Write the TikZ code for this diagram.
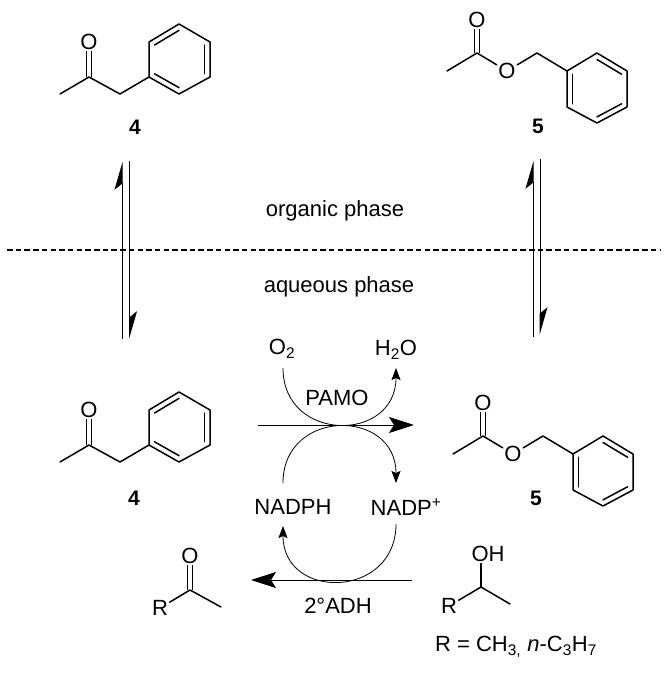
\documentclass[tikz,border=0pt]{standalone}
\usepackage{fontspec}
\setmainfont{Liberation Sans}
\usetikzlibrary{arrows.meta,calc}

\tikzset{
  txt/.style={font=\fontsize{22}{26}\selectfont,inner sep=1pt},
  atom/.style={font=\fontsize{22}{26}\selectfont,inner sep=1.5pt},
  cmpd/.style={font=\fontsize{21}{25}\selectfont\bfseries,inner sep=1pt},
  bond/.style={line width=1.5pt,line join=round,line cap=round},
  dbond/.style={line width=1.2pt,double,double distance=3.6pt},
  reaction/.style={line width=1pt,-{Stealth[length=25pt,width=16pt,inset=5pt]}},
  cofactor/.style={line width=.8pt,-{Stealth[length=12pt,width=9pt,inset=2pt]}},
  equp/.style={line width=1pt,-{Stealth[harpoon,length=26pt,width=15pt,inset=6pt]}},
  eqdown/.style={line width=1pt,-{Stealth[harpoon,length=26pt,width=15pt,inset=6pt]}},
  phenylketone/.pic={
    \coordinate (-c) at (0,0);
    \coordinate (-me) at (-29,17);
    \coordinate (-ch) at (31,17);
    \coordinate (-a) at (60,0);
    \coordinate (-b) at (60,-35);
    \coordinate (-d) at (90,-53);
    \coordinate (-e) at (121,-35);
    \coordinate (-f) at (121,0);
    \coordinate (-g) at (90,17);
    \coordinate (-m) at (90.5,-18);
    \node [atom] (-o) at (0,-35) {O};
    \draw [dbond] (-c) -- (-o);
    \draw [bond] (-me) -- (-c) -- (-ch) -- (-a);
    \draw [bond] (-a) -- (-b) -- (-d) -- (-e) -- (-f) -- (-g) -- cycle;
    \draw [bond] ($(-b)!.18!(-m)$) -- ($(-d)!.18!(-m)$);
    \draw [bond] ($(-e)!.18!(-m)$) -- ($(-f)!.18!(-m)$);
    \draw [bond] ($(-g)!.18!(-m)$) -- ($(-a)!.18!(-m)$);
  },
  benzylacetate/.pic={
    \coordinate (-c) at (0,0);
    \coordinate (-me) at (-30,18);
    \coordinate (-ch) at (60,0);
    \coordinate (-a) at (90,18);
    \coordinate (-b) at (90,54);
    \coordinate (-d) at (120,70);
    \coordinate (-e) at (150,54);
    \coordinate (-f) at (150,18);
    \coordinate (-g) at (120,0);
    \coordinate (-m) at (120,36);
    \node [atom] (-o) at (0,-33) {O};
    \node [atom] (-oe) at (30,18) {O};
    \draw [dbond] (-c) -- (-o);
    \draw [bond] (-me) -- (-c) -- (-oe) -- (-ch) -- (-a);
    \draw [bond] (-a) -- (-b) -- (-d) -- (-e) -- (-f) -- (-g) -- cycle;
    \draw [bond] ($(-a)!.18!(-m)$) -- ($(-b)!.18!(-m)$);
    \draw [bond] ($(-d)!.18!(-m)$) -- ($(-e)!.18!(-m)$);
    \draw [bond] ($(-f)!.18!(-m)$) -- ($(-g)!.18!(-m)$);
  }
}

\begin{document}
\begin{tikzpicture}[x=1pt,y=-1pt]
\useasboundingbox (0,0) rectangle (668,673);

% molecules
\pic (ketup) at (89,77) {phenylketone};
\pic (ketlow) at (89,445) {phenylketone};
\pic (estup) at (477,53) {benzylacetate};
\pic (estlow) at (483,436) {benzylacetate};
\node [cmpd] (lab4up) at (135,127) {4};
\node [cmpd] (lab4low) at (134,498) {4};
\node [cmpd] (lab5up) at (538,126) {5};
\node [cmpd] (lab5low) at (536,498) {5};

% phase boundary
\coordinate (phaseL) at (7,250);
\coordinate (phaseR) at (660,250);
\draw [line width=1.2pt,dash pattern=on 5.5pt off 3.2pt] (phaseL) -- (phaseR);
\node [txt] (organic) at (335,211) {organic phase};
\node [txt] (aqueous) at (339,287) {aqueous phase};

% equilibria
\coordinate (eqLa) at (122,339);
\coordinate (eqLb) at (122,162);
\coordinate (eqLc) at (129.5,161);
\coordinate (eqLd) at (129.5,339);
\coordinate (eqRa) at (533,337);
\coordinate (eqRb) at (533,161);
\coordinate (eqRc) at (540,159);
\coordinate (eqRd) at (540,335);
\draw [equp] (eqLa) -- (eqLb);
\draw [eqdown] (eqLc) -- (eqLd);
\draw [equp] (eqRa) -- (eqRb);
\draw [eqdown] (eqRc) -- (eqRd);

% cycle
\node [txt] (o2) at (282,349) {O\textsubscript{2}};
\node [txt] (h2o) at (396,350) {H\textsubscript{2}O};
\node [txt] (pamo) at (337,398) {PAMO};
\node [txt] (nadph) at (293,507) {NADPH};
\node [txt] (nadp) at (406,507) {NADP\textsuperscript{+}};
\node [txt] (adh) at (338,606) {2°ADH};
\coordinate (mainL) at (258,425);
\coordinate (mainR) at (414,425);
\coordinate (lowR) at (412,580);
\coordinate (lowL) at (251,580);
\draw [reaction] (mainL) -- (mainR);
\draw [reaction] (lowR) -- (lowL);
\coordinate (o2s) at (283,368);
\coordinate (h2os) at (396,368);
\coordinate (nadphn) at (283,483);
\coordinate (nadpn) at (396,483);
\coordinate (nadps) at (396,524);
\coordinate (nadphs) at (283,526);
\draw [cofactor] (o2s) .. controls +(0,75) and +(0,75) .. (h2os);
\draw [cofactor] (nadphn) .. controls +(0,-75) and +(0,-75) .. (nadpn);
\draw [cofactor] (nadps) .. controls +(0,75) and +(0,75) .. (nadphs);

% co-substrate and co-product
\coordinate (acC) at (190,590);
\coordinate (acMe) at (221,607);
\node [atom] (acO) at (190,556) {O};
\node [atom] (acR) at (160,608) {R};
\draw [dbond] (acC) -- (acO);
\draw [bond] (acR) -- (acC) -- (acMe);
\coordinate (alC) at (481,587);
\coordinate (alMe) at (510,604);
\node [atom] (alOH) at (488,554) {OH};
\node [atom] (alR) at (449,606) {R};
\draw [bond] (alC) -- (alOH.south -| alC);
\draw [bond] (alR) -- (alC) -- (alMe);
\node [txt] (rdef) at (516,647) {R = CH\textsubscript{3,} \textit{n}-C\textsubscript{3}H\textsubscript{7}};
\end{tikzpicture}
\end{document}
